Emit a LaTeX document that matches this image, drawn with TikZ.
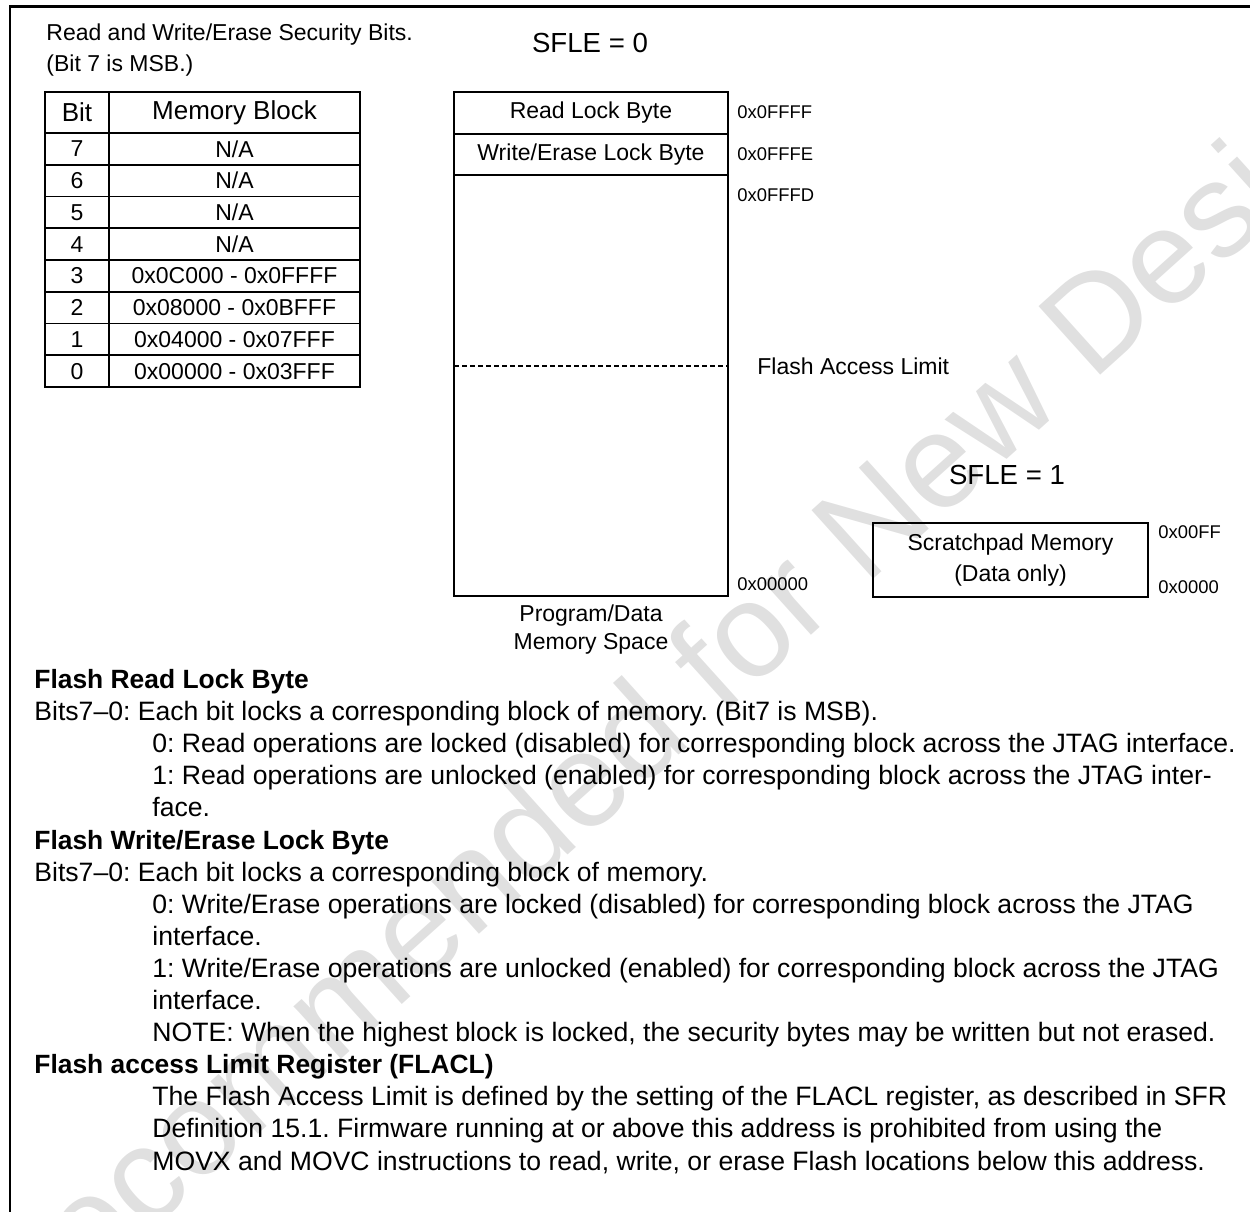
\documentclass[tikz,border=0pt]{standalone}
\usepackage{fontspec}
\setmainfont{Liberation Sans}
\frenchspacing
\usetikzlibrary{positioning}
\definecolor{wmark}{RGB}{224,224,224}
\tikzset{
  frameline/.style={line width=1.3pt},
  wm/.style={inner sep=0pt, text=wmark, font=\fontsize{67}{67}\selectfont},
  cellbox/.style={draw, line width=0.8pt, inner sep=0pt, outer sep=0pt,
                  minimum height=15.875pt, font=\fontsize{11.5}{13}\selectfont},
  headcell/.style={cellbox, line width=1.1pt, minimum height=20.5pt,
                   font=\fontsize{13}{15}\selectfont},
  bitcol/.style={minimum width=32pt},
  memcol/.style={minimum width=125.5pt},
  membox/.style={draw, line width=0.8pt, minimum width=137pt, inner sep=0pt,
                 outer sep=0pt, font=\fontsize{11.5}{13}\selectfont},
  addr/.style={anchor=west, inner sep=0pt, font=\fontsize{9.2}{11}\selectfont},
  lbl/.style={inner sep=0pt, align=center, font=\fontsize{11.5}{15.5}\selectfont},
  sfle/.style={inner sep=0pt, font=\fontsize{13.8}{16}\selectfont},
  limline/.style={dash pattern=on 2.5pt off 1.5pt, line width=0.6pt},
  txt/.style={anchor=base west, inner sep=0pt, font=\fontsize{13.3}{16}\selectfont},
  head/.style={txt, font=\fontsize{13.2}{16}\selectfont\bfseries},
}

\begin{document}
\begin{tikzpicture}[x=0.5pt, y=-0.5pt]
  \useasboundingbox (0,0) rectangle (1250,1212);
  % watermark
  \begin{scope}
    \clip (0,0) rectangle (1250,1212);
    \node[wm, anchor=base west, rotate=42] (wmk) at (-164,1514) {Not Recommended for New Designs};
  \end{scope}
  \draw[frameline] (10,1212) -- (10,6.5) -- (1250,6.5);

  % security bits table
  \node[lbl, anchor=west, align=left] (cap) at (46,50.5) {Read and Write/Erase Security Bits.\\(Bit 7 is MSB.)};
  \node[headcell, bitcol] (hbit) at (77,112.5) {Bit};
  \node[headcell, memcol] (hblk) at (234.5,112.5) {Memory Block};
  \foreach \b/\r [count=\i] in {7/{N/A},6/{N/A},5/{N/A},4/{N/A},
      3/{0x0C000 - 0x0FFFF},2/{0x08000 - 0x0BFFF},1/{0x04000 - 0x07FFF},0/{0x00000 - 0x03FFF}}{
    \node[cellbox, bitcol] (bit\b) at (77,{133+31.75*(\i-0.5)}) {\b};
    \node[cellbox, memcol] (blk\b) at (234.5,{133+31.75*(\i-0.5)}) {\r};
  }

  % program/data memory space
  \node[sfle] (sfle0) at (590,43) {SFLE = 0};
  \node[membox, minimum height=21pt] (rlb) at (591,113) {Read Lock Byte};
  \node[membox, minimum height=20.5pt, below=0pt of rlb] (welb) {Write/Erase Lock Byte};
  \node[membox, minimum height=210.5pt, below=0pt of welb] (pspace) {};
  \coordinate (lim) at (454,366);
  \draw[limline] (lim) -- (lim -| pspace.east);
  \node[lbl, anchor=west] (limtxt) at (757,366) {Flash Access Limit};
  \node[addr] (a0) at (737,112) {0x0FFFF};
  \node[addr] (a1) at (737,154) {0x0FFFE};
  \node[addr] (a2) at (737,195) {0x0FFFD};
  \node[addr] (a3) at (737,584) {0x00000};
  \node[lbl, font=\fontsize{11.5}{14}\selectfont, below=4pt of pspace] (pdlbl) {Program/Data\\Memory Space};

  % scratchpad
  \node[sfle] (sfle1) at (1007,475) {SFLE = 1};
  \node[membox, minimum width=137.5pt, minimum height=37pt, align=center,
        font=\fontsize{11.5}{15.5}\selectfont] (spad) at (1010.5,560) {Scratchpad Memory\\(Data only)};
  \node[addr] (a4) at (1158,532) {0x00FF};
  \node[addr] (a5) at (1158,587) {0x0000};

  % register description
  \node[head] (t0) at (34,688.5) {Flash Read Lock Byte};
  \node[txt] (t1) at (34,720.6) {Bits7\textendash 0: Each bit locks a corresponding block of memory. (Bit7 is MSB).};
  \node[txt] (t2) at (152,752.7) {0: Read operations are locked (disabled) for corresponding block across the JTAG interface.};
  \node[txt] (t3) at (152,784.8) {1: Read operations are unlocked (enabled) for corresponding block across the JTAG inter-};
  \node[txt] (t4) at (152,816.9) {face.};
  \node[head] (t5) at (34,849.0) {Flash Write/Erase Lock Byte};
  \node[txt] (t6) at (34,881.1) {Bits7\textendash 0: Each bit locks a corresponding block of memory.};
  \node[txt] (t7) at (152,913.2) {0: Write/Erase operations are locked (disabled) for corresponding block across the JTAG};
  \node[txt] (t8) at (152,945.3) {interface.};
  \node[txt] (t9) at (152,977.4) {1: Write/Erase operations are unlocked (enabled) for corresponding block across the JTAG};
  \node[txt] (t10) at (152,1009.5) {interface.};
  \node[txt] (t11) at (152,1041.6) {NOTE: When the highest block is locked, the security bytes may be written but not erased.};
  \node[head] (t12) at (34,1073.7) {Flash access Limit Register (FLACL)};
  \node[txt] (t13) at (152,1105.8) {The Flash Access Limit is defined by the setting of the FLACL register, as described in SFR};
  \node[txt] (t14) at (152,1137.9) {Definition 15.1. Firmware running at or above this address is prohibited from using the};
  \node[txt] (t15) at (152,1170.0) {MOVX and MOVC instructions to read, write, or erase Flash locations below this address.};
\end{tikzpicture}
\end{document}
